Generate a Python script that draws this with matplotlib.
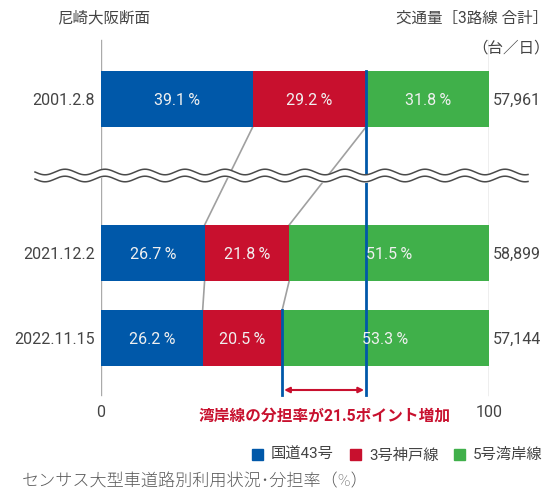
import numpy as np
import matplotlib
matplotlib.use("Agg")
import matplotlib.pyplot as plt

plt.rcParams['font.family'] = ['Roboto', 'Noto Sans CJK JP', 'DejaVu Sans']

dates = ['2001.2.8', '2021.12.2', '2022.11.15']
route43 = [39.1, 26.7, 26.2]
kobe3 = [29.2, 21.8, 20.5]
wangan5 = [31.8, 51.5, 53.3]
totals = ['57,961', '58,899', '57,144']
series_names = ['国道43号', '3号神戸線', '5号湾岸線']
colors = ['#0058a9', '#c8102e', '#40b04a']
txt = '#444444'

W, H = 558, 494
fig = plt.figure(figsize=(W / 100, H / 100), dpi=100)
x0, x1 = 101, 489
ax = fig.add_axes([x0 / W, 0, (x1 - x0) / W, 1])
ax.set_xlim(0, 100)
ax.set_ylim(H, 0)
ax.axis('off')

def px2x(px):
    return (px - x0) / (x1 - x0) * 100

ycent = [99, 253, 338]
bh = 56

# axis guide lines
for xv in (0, 100):
    ax.plot([xv, xv], [40, 395], color='#aaaaaa', lw=1, zorder=1)

left = np.zeros(3)
for vals, c in zip([route43, kobe3, wangan5], colors):
    vals = np.array(vals)
    ax.barh(ycent, vals, left=left, height=bh, color=c, zorder=3)
    for yc, l, v in zip(ycent, left, vals):
        ax.text(l + v / 2, yc + 1, f'{v:.1f}\u2009%', ha='center', va='center',
                color='#f0f0f0', fontsize=11.5, zorder=5)
    left = left + vals

# connector lines between bars
b1 = np.array(route43)
b2 = np.array(route43) + np.array(kobe3)
for i in range(2):
    ybot = ycent[i] + bh / 2
    ytop = ycent[i + 1] - bh / 2
    for b in (b1, b2):
        ax.plot([b[i], b[i + 1]], [ybot, ytop], color='#a0a0a0', lw=1.2, zorder=2)

# blue share markers
ax.plot([b2[0], b2[0]], [ycent[0] - bh / 2, 395], color='#0058a9', lw=2, zorder=4)
ax.plot([b2[2], b2[2]], [ycent[2] - bh / 2, 395], color='#0058a9', lw=2, zorder=4)

# wavy break
xs = np.linspace(35, 528, 800)
wave = 2.8 * np.sin(2 * np.pi * (xs - 35) / 40)
ax.fill_between(px2x(xs), 172 + wave, 179 + wave, color='white', zorder=6, clip_on=False)
for yb in (172, 179):
    ax.plot(px2x(xs), yb + wave, color='#4a4a4a', lw=1.1, zorder=7, clip_on=False)

# arrow for increase
ax.annotate('', xy=(b2[2] + 0.5, 390), xytext=(b2[0] - 0.5, 390),
            arrowprops=dict(arrowstyle='<|-|>', color='#c8102e', lw=1.5,
                            mutation_scale=8, shrinkA=0, shrinkB=0), zorder=5)
ax.text(px2x(325), 416, '湾岸線の分担率が21.5ポイント増加', ha='center', va='center',
        color='#c8102e', fontsize=11.3, fontweight='bold')

# row labels
for yc, d, t in zip(ycent, dates, totals):
    ax.text(px2x(95), yc + 1, d, ha='right', va='center', color=txt, fontsize=11.5,
            clip_on=False)
    ax.text(px2x(493), yc + 1, t, ha='left', va='center', color=txt, fontsize=11.5,
            clip_on=False)

ax.text(0, 412, '0', ha='center', va='center', color=txt, fontsize=11.5)
ax.text(100, 412, '100', ha='center', va='center', color=txt, fontsize=11.5)

fig.text(57 / W, 1 - 18 / H, '尼崎大阪断面', ha='left', va='center', color=txt,
         fontsize=11.2)
fig.text(548 / W, 1 - 18 / H, '交通量［3路線 合計］', ha='right', va='center', color=txt,
         fontsize=11.2)
fig.text(550 / W, 1 - 48 / H, '（台／日）', ha='right', va='center', color=txt,
         fontsize=11.2)

# legend
leg_x = [252, 350, 454]
for lx, name, c in zip(leg_x, series_names, colors):
    fig.patches.append(plt.Rectangle((lx / W, 1 - 460 / H), 11 / W, 11 / H,
                                     transform=fig.transFigure, color=c))
    fig.text((lx + 19) / W, 1 - 455 / H, name, ha='left', va='center', color=txt,
             fontsize=11)

fig.text(22 / W, 1 - 481 / H, 'センサス大型車道路別利用状況･分担率（%）', ha='left', va='center',
         color='#5a5a5a', fontsize=12.3, fontweight='light')

fig.savefig('out.png', dpi=100)
